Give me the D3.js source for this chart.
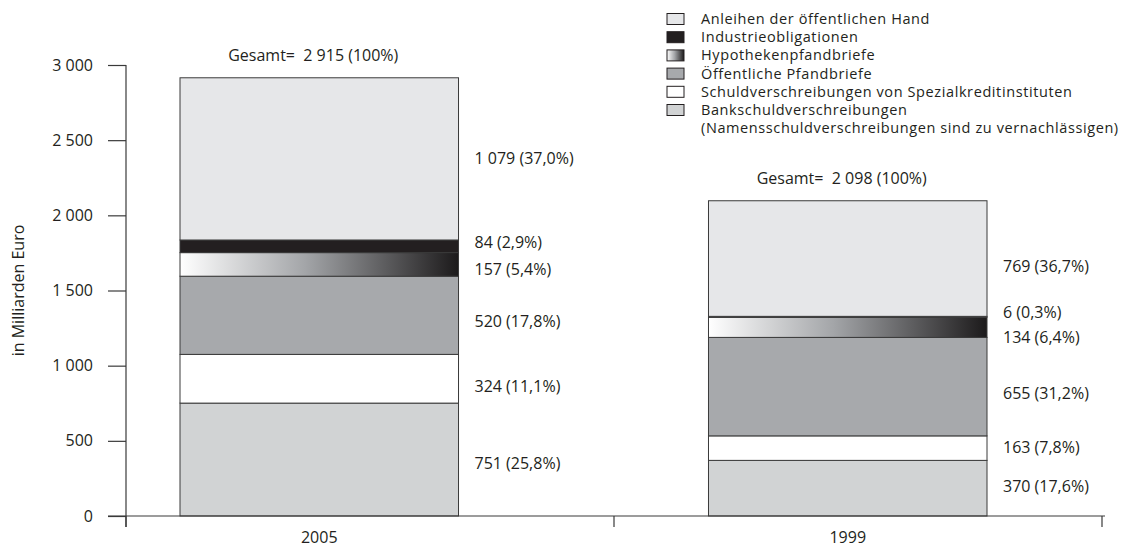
<!DOCTYPE html>
<html><head><meta charset="utf-8">
<script src="https://cdn.jsdelivr.net/npm/d3@7"></script>
<style>body{margin:0;background:#fff}svg{display:block}text{font-family:"Open Sans","Liberation Sans",sans-serif;fill:#231f20;white-space:pre}</style>
</head><body><svg id="c" width="1136" height="549"></svg>
<script>
const categories = ["2005", "1999"];
const seriesNames = ["Bankschuldverschreibungen", "Schuldverschreibungen von Spezialkreditinstituten", "Öffentliche Pfandbriefe", "Hypothekenpfandbriefe", "Industrieobligationen", "Anleihen der öffentlichen Hand"];
const values2005 = [751, 324, 520, 157, 84, 1079];
const values1999 = [370, 163, 655, 134, 6, 769];
const labels2005 = ["751 (25,8%)", "324 (11,1%)", "520 (17,8%)", "157 (5,4%)", "84 (2,9%)", "1 079 (37,0%)"];
const labels1999 = ["370 (17,6%)", "163 (7,8%)", "655 (31,2%)", "134 (6,4%)", "6 (0,3%)", "769 (36,7%)"];
const totals = ["Gesamt=  2 915 (100%)", "Gesamt=  2 098 (100%)"];
const yTicks = [0, 500, 1000, 1500, 2000, 2500, 3000];
const yTickLabels = ["0", "500", "1 000", "1 500", "2 000", "2 500", "3 000"];
const legendNames = ["Anleihen der öffentlichen Hand", "Industrieobligationen", "Hypothekenpfandbriefe", "Öffentliche Pfandbriefe", "Schuldverschreibungen von Spezialkreditinstituten", "Bankschuldverschreibungen"];
const legendNote = "(Namensschuldverschreibungen sind zu vernachlässigen)";
const yTitle = "in Milliarden Euro";

const fills = {"Bankschuldverschreibungen":"#d1d3d4","Schuldverschreibungen von Spezialkreditinstituten":"#ffffff","Öffentliche Pfandbriefe":"#a7a9ac","Hypothekenpfandbriefe":"url(#grad)","Industrieobligationen":"#231f20","Anleihen der öffentlichen Hand":"#e6e7e9"};
const labelNudge = [[4,8,6,5,-4,0],[-2,-1,7,10,-4,8]];

const svg = d3.select("#c");
const defs = svg.append("defs");
const g = defs.append("linearGradient").attr("id","grad").attr("x1","0").attr("x2","1").attr("y1","0").attr("y2","0");
g.append("stop").attr("offset","0").attr("stop-color","#ffffff");
g.append("stop").attr("offset","0.45").attr("stop-color","#a3a5a8");
g.append("stop").attr("offset","1").attr("stop-color","#1c1a1b");

const y = d3.scaleLinear().domain([0,3000]).range([516,65]);
const x = d3.scaleBand().domain(categories).range([180,987]).paddingInner(0.473).paddingOuter(0);
const xb = d3.scaleLinear().domain([0,2]).range([126,1102]);
const axisColor = "#3a3a3a";

// y axis
const ya = svg.append("g").attr("transform","translate(126,0)")
  .call(d3.axisLeft(y).tickValues(yTicks).tickFormat((d,i)=>yTickLabels[i]).tickSize(18).tickPadding(15));
ya.select(".domain").remove();
ya.selectAll("line").attr("stroke",axisColor).attr("stroke-width",1.2);
ya.selectAll("text").attr("font-size",16).attr("fill","#231f20").style("font-family",'"Open Sans","Liberation Sans",sans-serif');
svg.append("line").attr("x1",126).attr("x2",126).attr("y1",y(3000)).attr("y2",527).attr("stroke",axisColor).attr("stroke-width",1.2);
svg.append("text").attr("transform","translate(24,"+y(1500)+") rotate(-90)").attr("text-anchor","middle").attr("font-size",16).text(yTitle);

// bars
const allVals = [values2005, values1999];
const allLabels = [labels2005, labels1999];
categories.forEach((cat,ci)=>{
  const stack = d3.stack().keys(seriesNames.map((s,i)=>i))([allVals[ci]]);
  const bx = x(cat), bw = x.bandwidth();
  stack.forEach((layer,si)=>{
    const d = layer[0];
    svg.append("rect").attr("x",bx).attr("width",bw)
      .attr("y",y(d[1])).attr("height",y(d[0])-y(d[1]))
      .attr("fill",fills[seriesNames[si]]).attr("stroke","#3a3a3a").attr("stroke-width",1);
    svg.append("text").attr("x",bx+bw+16).attr("y",y((d[0]+d[1])/2)+labelNudge[ci][si]).attr("dy","0.35em")
      .attr("font-size",16).text(allLabels[ci][si]);
  });
  const top = d3.sum(allVals[ci]);
  svg.append("text").attr("x",bx+bw/2-6).attr("y",y(top)-17).attr("text-anchor","middle").attr("font-size",16).text(totals[ci]);
  svg.append("text").attr("x",bx+bw/2).attr("y",537).attr("dy","0.35em").attr("text-anchor","middle").attr("font-size",16).text(cat);
});

// x axis
svg.append("line").attr("x1",108).attr("x2",1105).attr("y1",516).attr("y2",516).attr("stroke",axisColor).attr("stroke-width",1.2);
[0,1,2].forEach(t=>svg.append("line").attr("x1",xb(t)).attr("x2",xb(t)).attr("y1",516).attr("y2",527).attr("stroke",axisColor).attr("stroke-width",1.2));

// legend
const legendFills = legendNames.map(n=>fills[n]);
const lg = svg.append("g");
legendNames.forEach((n,i)=>{
  const ly = 19 + i*18.2;
  lg.append("rect").attr("x",667).attr("y",ly-5.5).attr("width",17).attr("height",11).attr("fill",legendFills[i]).attr("stroke","#231f20").attr("stroke-width",1);
  lg.append("text").attr("x",701).attr("y",ly).attr("dy","0.35em").attr("font-size",14.5).attr("letter-spacing",0.6).text(n);
});
lg.append("text").attr("x",701).attr("y",19+6*18.2).attr("dy","0.35em").attr("font-size",14.5).attr("letter-spacing",0.6).text(legendNote);
</script></body></html>
